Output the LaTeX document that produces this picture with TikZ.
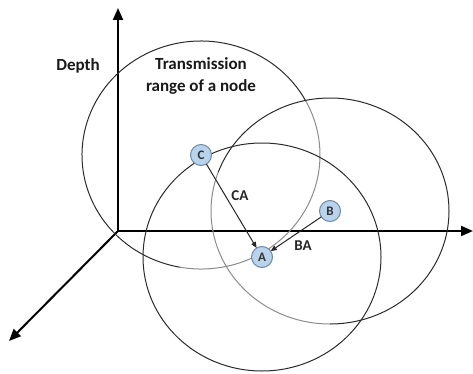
\documentclass[tikz,border=0pt]{standalone}
\usepackage{fontspec}
\setmainfont{Carlito}
\usetikzlibrary{arrows.meta}
\definecolor{nodefill}{HTML}{B9D3EC}
\definecolor{nodeedge}{HTML}{6F8AA6}
\definecolor{darkring}{HTML}{2B2B2B}
\definecolor{lightring}{HTML}{8C8C8C}
\tikzset{
  sensor/.style={circle, draw=nodeedge, fill=nodefill, line width=1pt, minimum size=21pt, inner sep=0pt, outer sep=0pt, font=\fontsize{13}{13}\selectfont\bfseries, text=black!80},
  axis/.style={line width=2pt, -{Triangle[length=12pt,width=10pt]}},
  link/.style={line width=1pt, draw=black!85, -{Triangle[length=6pt,width=5pt]}},
  ring/.style={line width=1pt, draw=darkring},
  ringlight/.style={line width=1pt, draw=lightring},
  lbl/.style={font=\fontsize{15}{15}\selectfont\bfseries, text=black!85},
  title/.style={font=\fontsize{17}{22}\selectfont\bfseries, align=center, text=black!90}
}
\begin{document}
\begin{tikzpicture}[x=1pt,y=1pt]
\useasboundingbox (0,0) rectangle (473,373);
% axes
\coordinate (O) at (118,142);
\coordinate (ytop) at (118,365);
\coordinate (xend) at (473,142);
\coordinate (zend) at (9,32);
\draw[axis] (O) -- (ytop);
\draw[axis] (O) -- (xend);
\draw[axis] (O) -- (zend);
% centres
\coordinate (pC) at (201,218);
\coordinate (pB) at (330,162);
\coordinate (pA) at (262,116);
% ranges
\draw[ring] (pC) ++(28:119 and 114) arc[start angle=28, end angle=260, x radius=119, y radius=114];
\draw[ringlight] (pC) ++(-100:119 and 114) arc[start angle=-100, end angle=28, x radius=119, y radius=114];
\draw[ring] (pB) ++(-90:119 and 113) arc[start angle=-90, end angle=160, x radius=119, y radius=113];
\draw[ringlight] (pB) ++(160:119 and 113) arc[start angle=160, end angle=270, x radius=119, y radius=113];
\draw[ring] (pA) ellipse [x radius=119, y radius=114];
% nodes
\node[sensor] (C) at (pC) {C};
\node[sensor] (B) at (pB) {B};
\node[sensor] (A) at (pA) {A};
% links
\draw[link] (C) -- (A);
\draw[link] (B) -- (A);
\node[lbl] (ca) at (240,177) {CA};
\node[lbl] (ba) at (303,127) {BA};
% texts
\node[title] (depth) at (78,307) {Depth};
\node[title] (range) at (201,297) {Transmission\\range of a node};
\end{tikzpicture}
\end{document}
